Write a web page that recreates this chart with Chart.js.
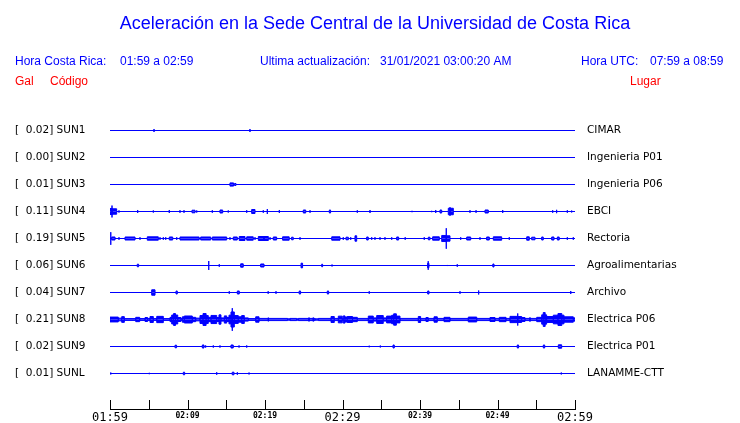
<!DOCTYPE html>
<html>
<head>
<meta charset="utf-8">
<script src="https://cdn.jsdelivr.net/npm/chart.js@4/dist/chart.umd.min.js"></script>
<style>
  html, body { margin: 0; padding: 0; background: #ffffff; }
  #wrap { width: 740px; height: 423px; position: relative; }
</style>
</head>
<body>
<div id="wrap"><canvas id="c" width="740" height="423"></canvas></div>
<script>
// ---------- text ----------
const TITLE = 'Aceleración en la Sede Central de la Universidad de Costa Rica';
const CR_LABEL = 'Hora Costa Rica:';
const CR_TIME = '01:59 a 02:59';
const UPD_LABEL = 'Ultima actualización:';
const UPDATED = '31/01/2021 03:00:20 AM';
const UTC_LABEL = 'Hora UTC:';
const UTC_TIME = '07:59 a 08:59';
const HEAD_GAL = 'Gal';
const HEAD_CODE = 'Código';
const HEAD_PLACE = 'Lugar';

// ---------- stations ----------
const CODES = ['SUN1', 'SUN2', 'SUN3', 'SUN4', 'SUN5', 'SUN6', 'SUN7', 'SUN8', 'SUN9', 'SUNL'];
const PLACES = ['CIMAR', 'Ingenieria P01', 'Ingenieria P06', 'EBCI', 'Rectoria',
                'Agroalimentarias', 'Archivo', 'Electrica P06', 'Electrica P01', 'LANAMME-CTT'];
const PEAKS = [0.02, 0.00, 0.01, 0.11, 0.19, 0.06, 0.04, 0.21, 0.02, 0.01];

// time axis: minutes after 01:59, labelled every 10 minutes
const TIME_LABELS = ['01:59', '02:09', '02:19', '02:29', '02:39', '02:49', '02:59'];

// ---------- events per station: [start minute, end minute, half amplitude (Gal)] ----------
const SUN1 = [[5.68, 5.68, 0.028], [18.06, 18.06, 0.028]];
const SUN2 = [];
const SUN3 = [[15.48, 15.94, 0.03], [16.06, 16.26, 0.018]];
const SUN4 = [
  [0, 0.26, 0.056], [0.26, 0.26, 0.11], [0.26, 0.86, 0.05],
  [1.16, 1.16, 0.02], [3.57, 3.57, 0.028], [5.59, 5.59, 0.02], [7.65, 7.65, 0.028],
  [9.03, 9.03, 0.024], [9.55, 9.55, 0.024], [10.58, 10.97, 0.024], [11.19, 11.19, 0.02],
  [13.2, 13.2, 0.024], [14.19, 14.54, 0.028], [15.26, 15.26, 0.02], [17.64, 17.64, 0.024],
  [18.28, 18.71, 0.037], [19.78, 19.78, 0.024], [20.3, 20.3, 0.046], [21.85, 21.85, 0.028],
  [24.94, 25.25, 0.028], [25.81, 25.81, 0.024], [28.3, 28.46, 0.028], [31.91, 31.91, 0.024],
  [33.55, 33.55, 0.028], [38.97, 38.97, 0.013], [41.51, 41.51, 0.013], [42.03, 42.03, 0.028],
  [42.58, 42.8, 0.028], [43.65, 43.87, 0.06], [43.87, 43.87, 0.08], [43.87, 44.3, 0.06],
  [46.45, 46.45, 0.024], [47.23, 47.23, 0.024], [48.39, 48.81, 0.028], [50.67, 50.67, 0.028],
  [57.12, 57.12, 0.024], [57.63, 57.63, 0.031], [59.01, 59.01, 0.024], [59.57, 59.57, 0.018]
];
const SUN5 = [
  [0.1, 0.1, 0.117], [0.22, 0.65, 0.028], [1.16, 1.16, 0.024], [1.94, 3.23, 0.028], [3.87, 3.87, 0.024],
  [4.81, 6.23, 0.031], [6.45, 6.45, 0.024], [6.88, 6.88, 0.024], [7.19, 7.19, 0.024], [7.65, 8.09, 0.028],
  [8.61, 8.61, 0.024], [9.03, 11.5, 0.028], [11.7, 13.0, 0.028], [13.2, 15.06, 0.028], [15.48, 15.48, 0.024],
  [15.91, 16.42, 0.028], [16.68, 17.42, 0.037], [17.64, 18.48, 0.031], [18.71, 18.71, 0.024],
  [19.14, 19.87, 0.037], [19.87, 19.87, 0.043], [19.87, 20.43, 0.037], [20.65, 20.65, 0.024],
  [21.07, 21.5, 0.028], [22.27, 23.12, 0.031], [23.43, 23.64, 0.024], [24.52, 24.52, 0.024],
  [28.61, 29.68, 0.031], [30.1, 30.1, 0.024], [30.45, 30.75, 0.024], [31.06, 31.06, 0.024],
  [31.61, 31.83, 0.05], [33.12, 33.32, 0.028], [33.77, 33.77, 0.024], [34.19, 34.19, 0.024],
  [34.84, 34.84, 0.024], [35.48, 35.48, 0.024], [36.35, 36.35, 0.024], [36.99, 37.24, 0.028],
  [38.09, 38.09, 0.024], [40.55, 40.55, 0.024], [41.07, 41.29, 0.024], [41.63, 42.49, 0.031],
  [42.8, 43.39, 0.056], [43.39, 43.39, 0.19], [43.39, 43.87, 0.05], [45.25, 45.25, 0.024],
  [46.03, 46.54, 0.028], [47.74, 47.74, 0.024], [48.6, 48.94, 0.028], [49.46, 50.54, 0.031],
  [51.52, 51.52, 0.024], [53.77, 54.1, 0.031], [54.41, 54.84, 0.024], [55.7, 55.9, 0.028],
  [56.99, 57.29, 0.028], [57.72, 57.96, 0.028], [59.01, 59.01, 0.024], [59.78, 59.78, 0.024]
];
const SUN6 = [
  [3.52, 3.69, 0.024], [12.74, 12.74, 0.083], [14.1, 14.1, 0.024], [16.86, 17.19, 0.031],
  [19.44, 19.87, 0.028], [24.65, 24.85, 0.043], [27.32, 27.43, 0.024], [28.65, 28.65, 0.018],
  [40.99, 41.06, 0.04], [41.06, 41.06, 0.08], [41.06, 41.16, 0.04], [43.52, 43.52, 0.01],
  [44.81, 44.81, 0.024], [49.4, 49.55, 0.028]
];
const SUN7 = [
  [5.38, 5.81, 0.05], [8.52, 8.68, 0.028], [15.39, 15.39, 0.024], [16.43, 16.68, 0.028],
  [20.41, 20.41, 0.024], [21.42, 21.42, 0.024], [24.41, 24.59, 0.028], [28.04, 28.21, 0.028],
  [33.45, 33.45, 0.024], [40.99, 41.16, 0.028], [45.16, 45.16, 0.024], [47.57, 47.57, 0.037],
  [59.45, 59.45, 0.028]
];
const SUN8 = [
  [0, 1.07, 0.045], [1.07, 1.51, 0.025], [1.51, 1.85, 0.053], [1.85, 3.32, 0.017], [3.32, 3.83, 0.04],
  [3.83, 4.52, 0.017], [4.52, 4.86, 0.037], [4.86, 5.16, 0.017], [5.16, 5.59, 0.055], [5.59, 6.03, 0.017],
  [6.03, 6.88, 0.058], [6.88, 7.74, 0.017], [7.74, 7.96, 0.04], [7.96, 8.2, 0.083], [8.2, 8.45, 0.11],
  [8.45, 8.74, 0.083], [8.74, 9.16, 0.037], [9.16, 9.33, 0.017], [9.33, 9.59, 0.05], [9.59, 10.62, 0.065],
  [10.62, 11.06, 0.04], [11.06, 11.61, 0.025], [11.61, 12.0, 0.073], [12.0, 12.4, 0.11], [12.4, 12.68, 0.073],
  [12.68, 13.03, 0.04], [13.03, 13.77, 0.075], [13.77, 14.06, 0.037], [14.06, 14.32, 0.086], [14.32, 14.75, 0.03],
  [14.75, 15.06, 0.067], [15.06, 15.35, 0.037], [15.35, 15.61, 0.08], [15.61, 15.78, 0.14], [15.78, 15.78, 0.21],
  [15.78, 16.04, 0.14], [16.04, 16.55, 0.073], [16.55, 16.99, 0.05], [16.99, 17.33, 0.073], [17.33, 17.85, 0.03],
  [17.85, 18.8, 0.017], [18.8, 19.23, 0.05], [19.23, 20.43, 0.02], [20.43, 20.43, 0.035], [20.43, 22.92, 0.02],
  [22.92, 23.23, 0.012], [23.23, 24.09, 0.02], [24.09, 24.3, 0.012], [24.3, 25.68, 0.02], [25.68, 25.68, 0.037],
  [25.68, 26.23, 0.02], [26.23, 26.23, 0.037], [26.23, 26.45, 0.02], [26.45, 26.88, 0.012], [26.88, 28.52, 0.02],
  [28.52, 28.94, 0.055], [28.94, 29.46, 0.02], [29.46, 29.97, 0.062], [29.97, 30.1, 0.02], [30.1, 30.32, 0.067],
  [30.32, 30.6, 0.045], [30.6, 31.3, 0.055], [31.3, 31.91, 0.04], [31.91, 33.33, 0.02], [33.33, 33.97, 0.063],
  [33.97, 34.41, 0.03], [34.41, 35.26, 0.073], [35.26, 35.69, 0.03], [35.69, 36.34, 0.063], [36.34, 36.6, 0.078],
  [36.6, 36.95, 0.105], [36.95, 37.42, 0.063], [37.42, 39.78, 0.02], [39.78, 40.08, 0.055], [40.08, 40.77, 0.02],
  [40.77, 41.06, 0.037], [41.06, 41.81, 0.02], [41.81, 42.23, 0.05], [42.23, 43.1, 0.02], [43.1, 43.87, 0.04],
  [43.87, 46.23, 0.02], [46.23, 47.32, 0.045], [47.32, 49.03, 0.02], [49.03, 49.68, 0.037], [49.68, 50.23, 0.02],
  [50.23, 51.1, 0.04], [51.1, 51.61, 0.02], [51.61, 52.61, 0.058], [52.61, 52.61, 0.112], [52.61, 53.12, 0.055],
  [53.12, 53.55, 0.037], [53.55, 54.19, 0.02], [54.19, 54.19, 0.04], [54.19, 55.06, 0.02], [55.06, 55.7, 0.04],
  [55.7, 55.9, 0.086], [55.9, 56.15, 0.128], [56.15, 56.34, 0.086], [56.34, 57.2, 0.055], [57.2, 57.8, 0.08],
  [57.8, 58.3, 0.11], [58.3, 58.58, 0.08], [58.58, 59.78, 0.05], [59.78, 60, 0.03]
];
const SUN9 = [
  [8.39, 8.59, 0.024], [11.91, 12.13, 0.028], [12.34, 12.34, 0.02], [13.33, 13.33, 0.02],
  [14.19, 14.19, 0.02], [15.61, 15.9, 0.028], [16.65, 16.65, 0.02], [17.64, 17.64, 0.02],
  [33.45, 33.45, 0.015], [34.88, 34.88, 0.018], [36.52, 36.68, 0.028], [52.55, 52.72, 0.028],
  [55.91, 56.09, 0.028], [57.85, 58.28, 0.031]
];
const SUNL = [
  [0.1, 0.1, 0.018], [5.07, 5.07, 0.013], [9.46, 9.63, 0.024], [13.77, 13.77, 0.024],
  [15.77, 16.0, 0.024], [16.43, 16.43, 0.024], [17.94, 17.94, 0.018], [58.23, 58.23, 0.018]
];
const EVENTS = [SUN1, SUN2, SUN3, SUN4, SUN5, SUN6, SUN7, SUN8, SUN9, SUNL];

// ---------- layout constants ----------
const T_END = 60;          // minutes shown
const ROW_GAP = 0.5;       // Gal between trace baselines
const Y_MAX = ROW_GAP * (1 + 1 / 54);
const Y_MIN = Y_MAX - ROW_GAP * 306 / 27;
const BLUE = '#0000ff';

function tracePoints(events, base, sign) {
  const pts = [{ x: 0, y: base }];
  for (const [t0, t1, a] of events) {
    pts.push({ x: t0, y: base + sign * a });
    pts.push({ x: t1, y: base });
  }
  pts.push({ x: T_END, y: base });
  return pts;
}

const datasets = [];
EVENTS.forEach((ev, i) => {
  const base = -i * ROW_GAP;
  [1, -1].forEach(sign => {
    datasets.push({
      label: CODES[i],
      data: tracePoints(ev, base, sign),
      borderColor: BLUE,
      backgroundColor: BLUE,
      borderWidth: 1,
      pointRadius: 0,
      stepped: true,
      fill: { value: base },
      yAxisID: 'y'
    });
  });
});

const stationTicks = (scale) => {
  scale.ticks = CODES.map((_, i) => ({ value: -i * ROW_GAP }));
};
const fitSide = (width) => (s) => {
  s.width = width;
  s.paddingTop = 0;
  s.paddingBottom = 0;
};

const headerPlugin = {
  id: 'header',
  afterDraw(chart) {
    const c = chart.ctx;
    c.save();
    c.textBaseline = 'alphabetic';
    c.fillStyle = BLUE;
    c.font = '18px "Liberation Sans", Arial, sans-serif';
    c.textAlign = 'center';
    c.fillText(TITLE, 375, 29);
    c.font = '12px "Liberation Sans", Arial, sans-serif';
    c.textAlign = 'left';
    c.fillText(CR_LABEL, 15, 65);
    c.fillText(CR_TIME, 120, 65);
    c.fillText(UPD_LABEL, 260, 65);
    c.fillText(UPDATED, 380, 65);
    c.fillText(UTC_LABEL, 581, 65);
    c.fillText(UTC_TIME, 650, 65);
    c.fillStyle = '#ff0000';
    c.fillText(HEAD_GAL, 15, 85);
    c.fillText(HEAD_CODE, 50, 85);
    c.fillText(HEAD_PLACE, 630, 85);
    // upward tick marks on the time axis
    const xs = chart.scales.x;
    const yb = chart.chartArea.bottom;
    c.strokeStyle = '#000000';
    c.lineWidth = 1;
    c.beginPath();
    xs.ticks.forEach(t => {
      const px = Math.round(xs.getPixelForValue(t.value)) + 0.5;
      c.moveTo(px, yb - 9);
      c.lineTo(px, yb);
    });
    c.stroke();
    c.restore();
  }
};

const BIG_FONT = { family: '"DejaVu Sans Mono", monospace', size: 12, lineHeight: 1.4 };
const SMALL_FONT = { family: '"DejaVu Sans Mono", monospace', size: 8, weight: 'bold', lineHeight: 1.8 };
const LABEL_FONT = { family: '"DejaVu Sans", sans-serif', size: 10.5 };

new Chart(document.getElementById('c'), {
  type: 'line',
  data: { datasets },
  plugins: [headerPlugin],
  options: {
    responsive: false,
    animation: false,
    devicePixelRatio: 1,
    layout: { padding: { left: 15, right: 0, top: 103, bottom: 0 } },
    plugins: { legend: { display: false }, tooltip: { enabled: false }, title: { display: false } },
    elements: { line: { tension: 0 } },
    scales: {
      x: {
        type: 'linear',
        min: 0,
        max: T_END,
        grid: { display: false, drawTicks: false },
        border: { display: true, color: '#000000', width: 1 },
        afterFit: (s) => { s.height = 14; },
        ticks: {
          stepSize: 5,
          autoSkip: false,
          maxRotation: 0,
          padding: 0,
          color: '#000000',
          font: (ctx) => (ctx.tick && ctx.tick.value % 30 === 0) ? BIG_FONT : SMALL_FONT,
          callback: (v) => (v % 10 === 0) ? TIME_LABELS[v / 10] : ''
        }
      },
      y: {
        type: 'linear',
        position: 'left',
        min: Y_MIN,
        max: Y_MAX,
        grid: { display: false, drawTicks: false },
        border: { display: false },
        afterBuildTicks: stationTicks,
        afterFit: fitSide(95),
        ticks: {
          autoSkip: false,
          crossAlign: 'far',
          padding: 0,
          color: '#000000',
          font: LABEL_FONT,
          callback: (v, i) => '[' + PEAKS[i].toFixed(2).padStart(6, ' ') + '] ' + CODES[i]
        }
      },
      y2: {
        type: 'linear',
        position: 'right',
        min: Y_MIN,
        max: Y_MAX,
        grid: { display: false, drawTicks: false },
        border: { display: false },
        afterBuildTicks: stationTicks,
        afterFit: fitSide(165),
        ticks: {
          autoSkip: false,
          crossAlign: 'near',
          padding: 12,
          color: '#000000',
          font: LABEL_FONT,
          callback: (v, i) => PLACES[i]
        }
      }
    }
  }
});
</script>
</body>
</html>
